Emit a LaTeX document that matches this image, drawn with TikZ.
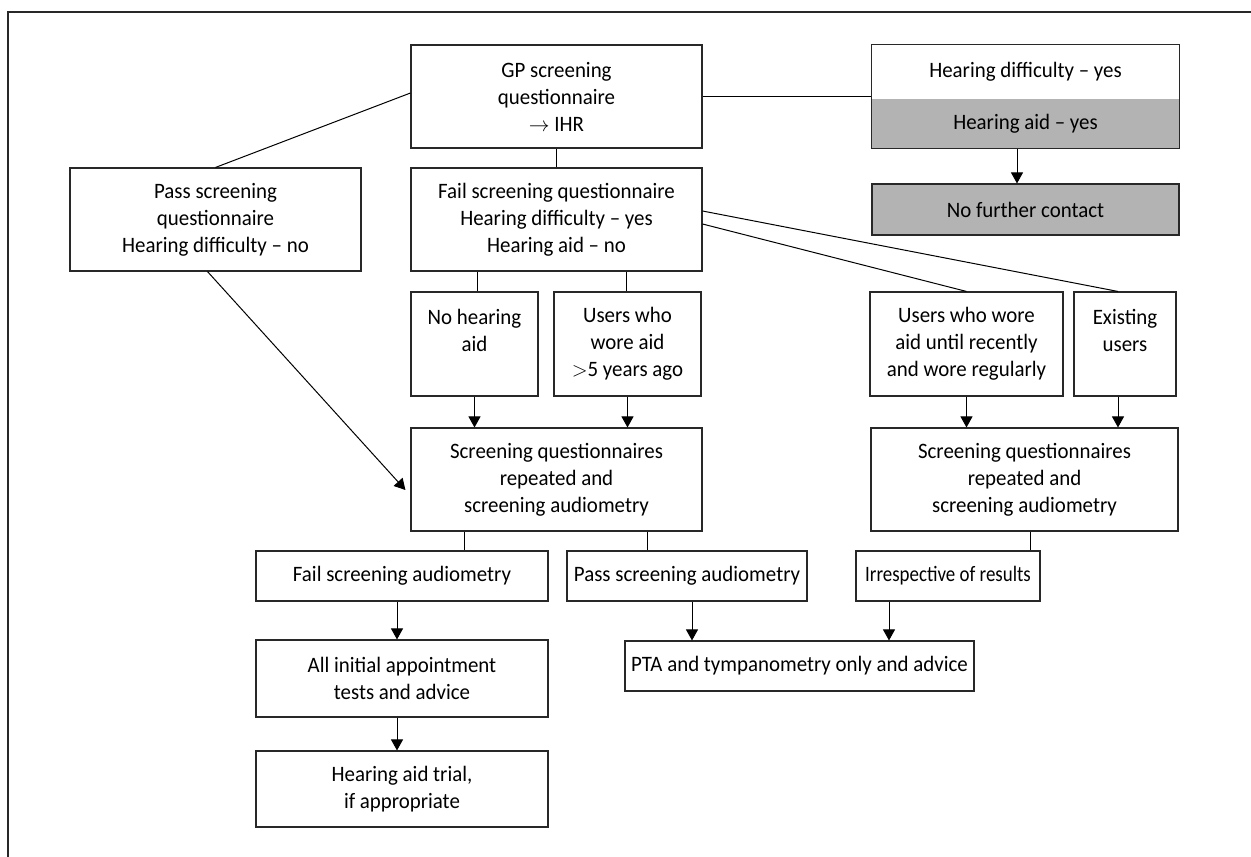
\documentclass[tikz,border=0pt]{standalone}
\usepackage{fontspec}
\setmainfont{Carlito}[FakeStretch=0.95]
\usetikzlibrary{arrows.meta,calc}
\definecolor{gbox}{RGB}{179,179,179}
\definecolor{edge}{RGB}{40,40,40}
\begin{document}
\begin{tikzpicture}[x=1pt,y=-1pt,
  box/.style={draw=edge, line width=1.1pt, align=center, inner sep=0pt,
    font=\fontsize{22}{27}\selectfont},
  conn/.style={line width=1pt, draw=black},
  arr/.style={conn, -{Triangle[width=12pt,length=11pt]}}]
\useasboundingbox (0,0) rectangle (1251,857);
% frame
\draw[line width=1.2pt, edge] (8,857) -- (8,12) -- (1251,12);

% top row
\node[box, minimum width=291pt, minimum height=103pt] (gp) at (556.5,96.5)
  {GP screening\\questionnaire\\$\rightarrow$ IHR};
\node[box, draw=none, fill=white, minimum width=307pt, minimum height=54pt] (hdt) at (1025.5,72)
  {Hearing difficulty -- yes};
\node[box, draw=none, fill=gbox, minimum width=307pt, minimum height=49pt] (hdb) at (1025.5,123.5)
  {Hearing aid -- yes};
\draw[draw=edge, line width=1.1pt] (hdt.north west) rectangle (hdb.south east);
\node[box, fill=gbox, minimum width=307pt, minimum height=51pt] (nfc) at (1025.5,209.5)
  {No further contact};

% second row
\node[box, minimum width=291pt, minimum height=103pt] (pass) at (215.5,219.5)
  {Pass screening\\questionnaire\\Hearing difficulty -- no};
\node[box, minimum width=291pt, minimum height=103pt] (fail) at (556.5,219.5)
  {Fail screening questionnaire\\Hearing difficulty -- yes\\Hearing aid -- no};

% third row
\node[box, minimum width=127pt, minimum height=104pt] (noaid) at (474.5,344)
  {No hearing\\aid\\\mbox{}};
\node[box, minimum width=147pt, minimum height=104pt] (wore5) at (627.5,344)
  {Users who\\wore aid\\$>$5 years ago};
\node[box, minimum width=193pt, minimum height=104pt] (recent) at (966.5,344)
  {Users who wore\\aid until recently\\and wore regularly};
\node[box, minimum width=102pt, minimum height=104pt] (exist) at (1125,344)
  {Existing\\users\\\mbox{}};

% screening boxes
\node[box, minimum width=291pt, minimum height=103pt] (scr1) at (556.5,479.5)
  {Screening questionnaires\\repeated and\\screening audiometry};
\node[box, minimum width=307pt, minimum height=103pt] (scr2) at (1024.5,479.5)
  {Screening questionnaires\\repeated and\\screening audiometry};

% results row
\node[box, minimum width=292pt, minimum height=50pt] (failaud) at (402,576)
  {Fail screening audiometry};
\node[box, minimum width=240pt, minimum height=50pt] (passaud) at (687,576)
  {Pass screening audiometry};
\node[box, minimum width=184pt, minimum height=50pt,
  font=\fontsize{22}{27}\selectfont\addfontfeature{FakeStretch=0.86}] (irr) at (948,576)
  {Irrespective of results};

% bottom
\node[box, minimum width=292pt, minimum height=77pt] (allinit) at (402,678.5)
  {All initial appointment\\tests and advice};
\node[box, minimum width=292pt, minimum height=76pt] (trial) at (402,789)
  {Hearing aid trial,\\if appropriate};
\node[box, minimum width=349pt, minimum height=50pt] (pta) at (799.5,666)
  {PTA and tympanometry only and advice};

% helper x positions
\coordinate (xhd) at (1017,0);
\coordinate (xex) at (1118,0);
\coordinate (xs1a) at (464,0);
\coordinate (xs1b) at (647,0);
\coordinate (xs2) at (1030,0);
\coordinate (xfa) at (397,0);
\coordinate (xpa) at (692,0);
\coordinate (xir) at (889,0);
\coordinate (xna) at (477,0);
\coordinate (xw5) at (626,0);

% connectors
\draw[conn] ($(gp.west)+(0,-3.5)$) -- (pass.north);
\draw[conn] (gp.east) -- (gp.east -| hdt.west);
\draw[arr] (hdb.south -| xhd) -- (nfc.north -| xhd);
\draw[conn] (gp.south) -- (fail.north);
\draw[arr] ($(pass.south)+(-8,0)$) -- ($(scr1.west)+(-5,10.5)$);
\draw[conn] (fail.south -| xna) -- (noaid.north -| xna);
\draw[conn] (fail.south -| xw5) -- (wore5.north -| xw5);
\draw[conn] ($(fail.east)+(0,-8.5)$) -- (exist.north -| xex);
\draw[conn] ($(fail.east)+(0,4.5)$) -- (recent.north);
\draw[arr] (noaid.south) -- (scr1.north -| noaid.south);
\draw[arr] (wore5.south) -- (scr1.north -| wore5.south);
\draw[arr] (recent.south) -- (scr2.north -| recent.south);
\draw[arr] (exist.south -| xex) -- (scr2.north -| xex);
\draw[conn] (scr1.south -| xs1a) -- (failaud.north -| xs1a);
\draw[conn] (scr1.south -| xs1b) -- (passaud.north -| xs1b);
\draw[conn] (scr2.south -| xs2) -- (irr.north -| xs2);
\draw[arr] (failaud.south -| xfa) -- (allinit.north -| xfa);
\draw[arr] (allinit.south -| xfa) -- (trial.north -| xfa);
\draw[arr] (passaud.south -| xpa) -- (pta.north -| xpa);
\draw[arr] (irr.south -| xir) -- (pta.north -| xir);
\end{tikzpicture}
\end{document}
